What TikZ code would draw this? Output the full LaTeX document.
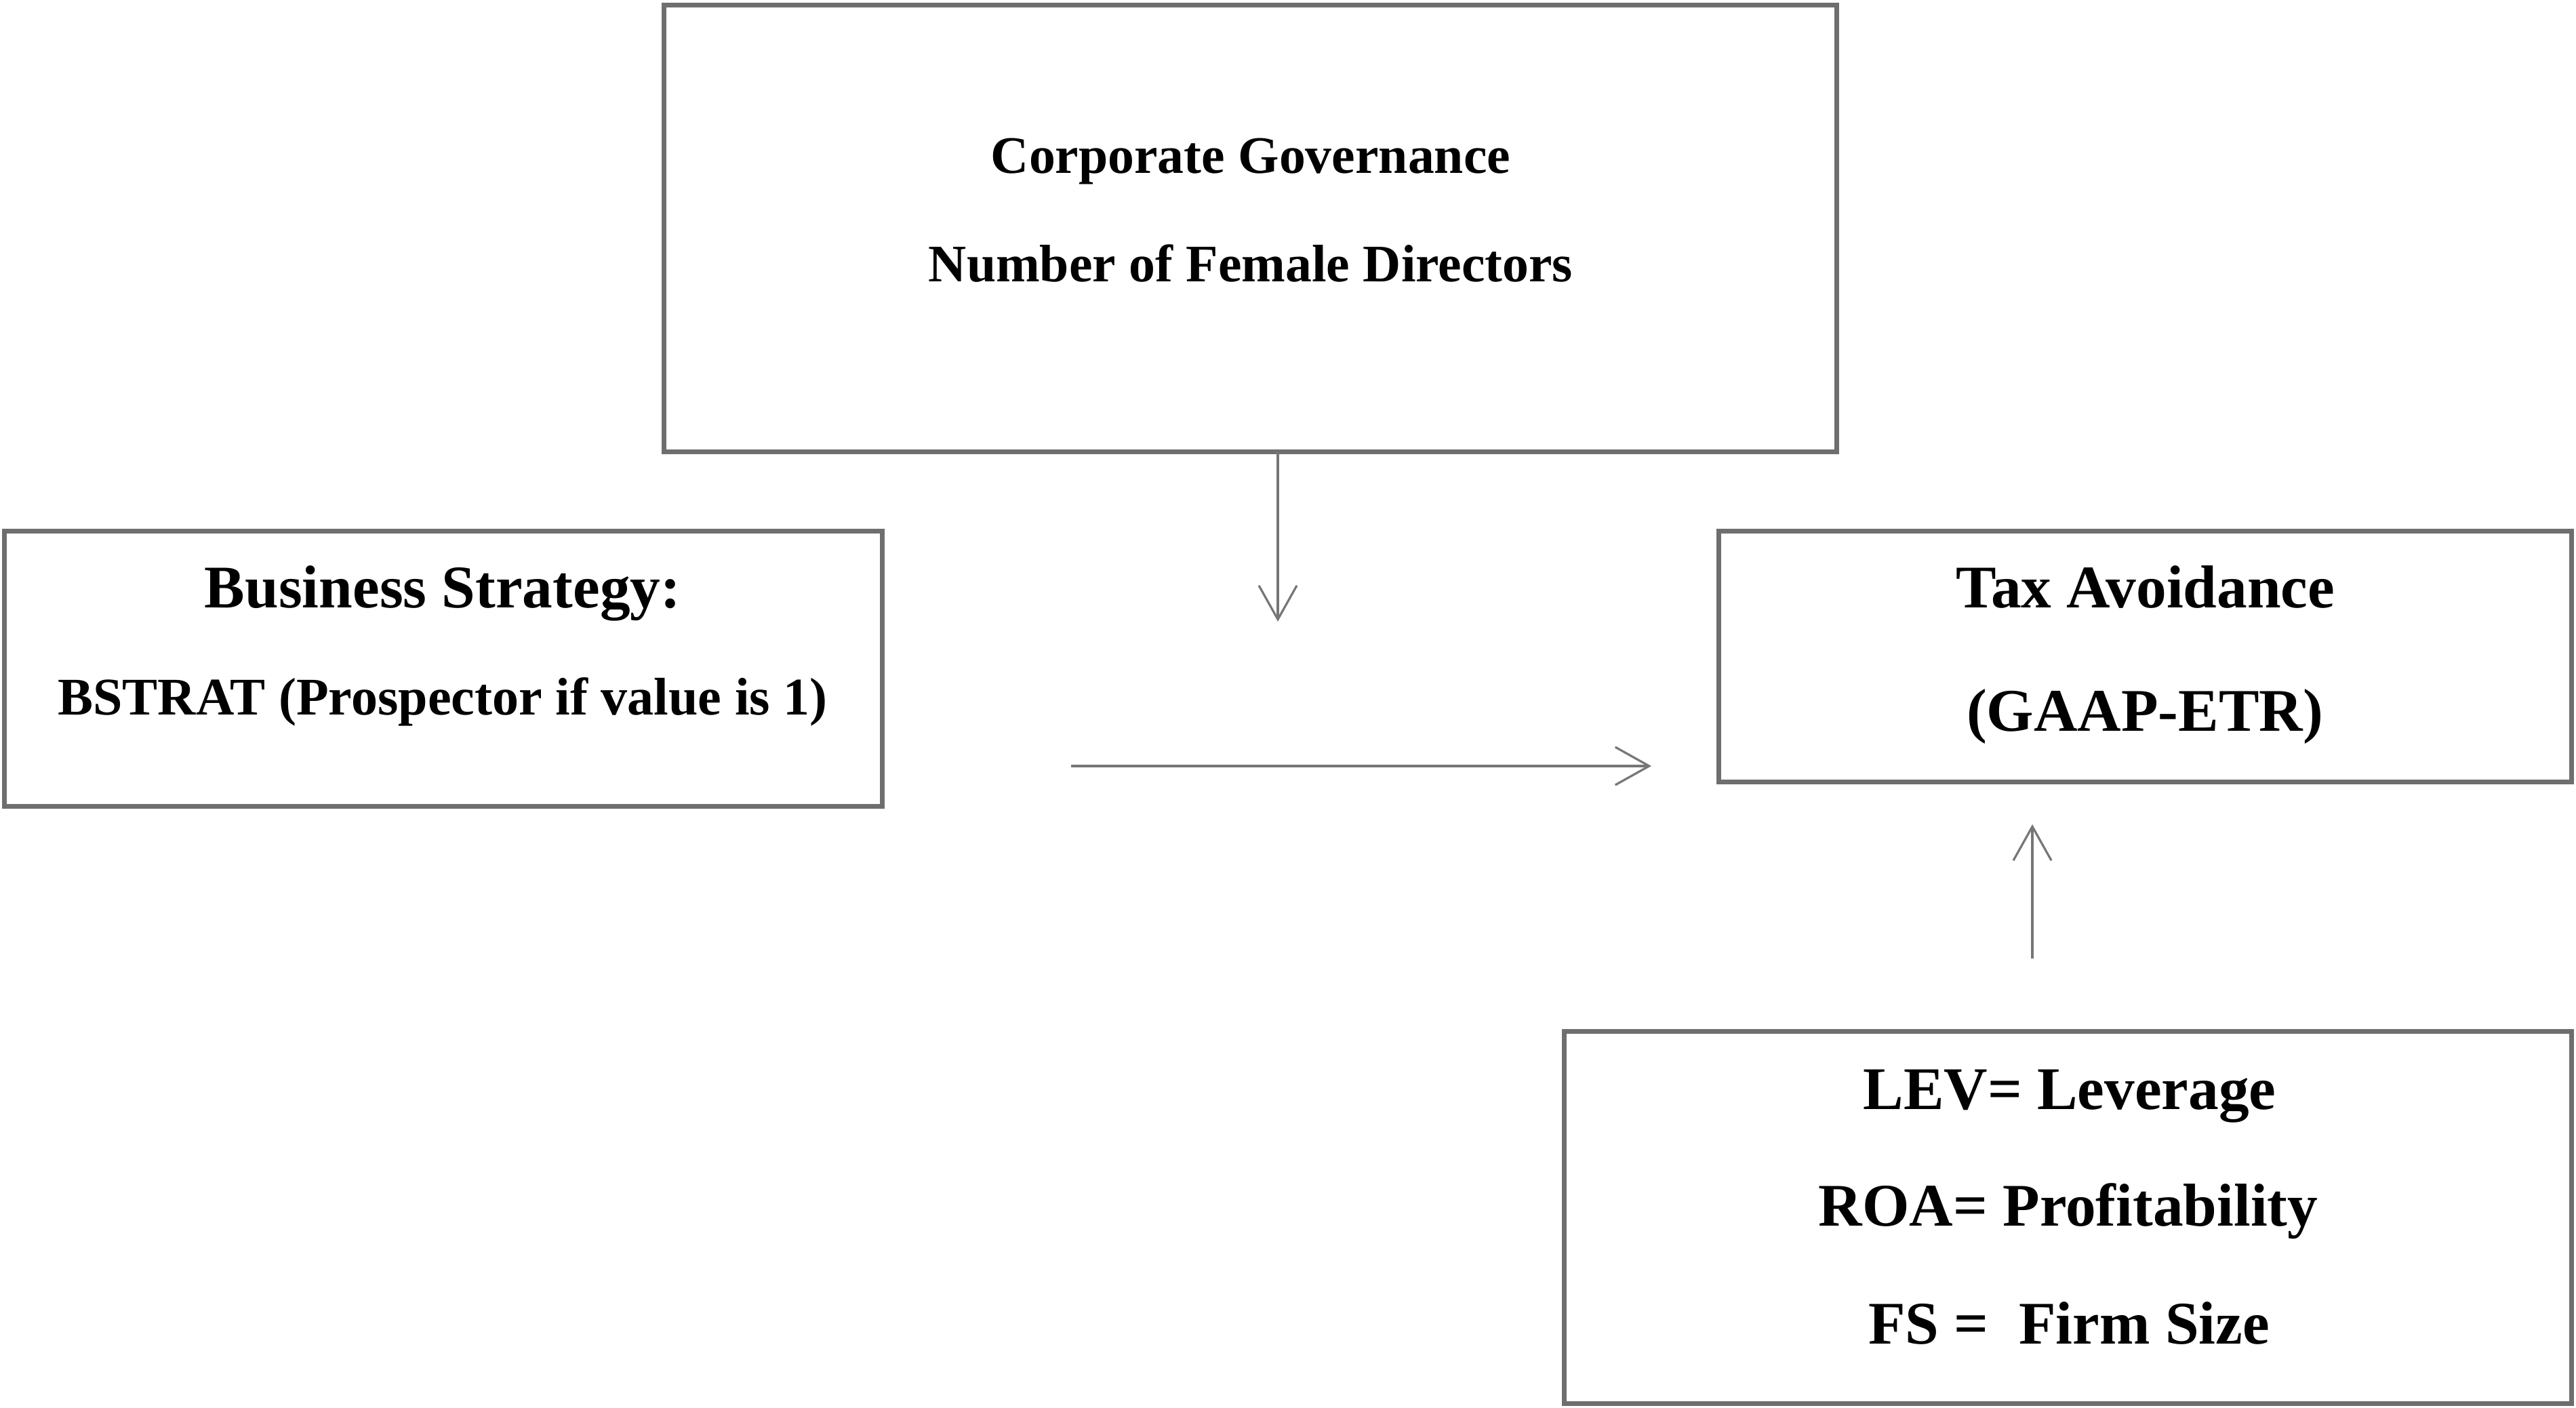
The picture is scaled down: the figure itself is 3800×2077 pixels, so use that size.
\documentclass[tikz,border=0pt]{standalone}
\usepackage{fontspec}
\setmainfont{Liberation Serif}
\usetikzlibrary{arrows.meta}
\definecolor{boxgray}{HTML}{6E6E6E}
\definecolor{arrowgray}{HTML}{767676}
\begin{document}
\begin{tikzpicture}[x=0.01cm,y=-0.01cm,
  box/.style={draw=boxgray,line width=0.07cm,rectangle,inner sep=0pt,fill=none},
  txtbig/.style={inner sep=0pt,anchor=base,font=\bfseries\fontsize{25.4pt}{30pt}\selectfont},
  txtmid/.style={inner sep=0pt,anchor=base,font=\bfseries\fontsize{22.2pt}{27pt}\selectfont},
  txtsmall/.style={inner sep=0pt,anchor=base,font=\bfseries\fontsize{22.1pt}{26pt}\selectfont},
  conn/.style={draw=arrowgray,line width=0.032cm,-{Straight Barb[length=0.5cm,width=0.56cm]}}]
\useasboundingbox (0,0) rectangle (3800,2077);
% boxes
\node[box,minimum width=17.29cm,minimum height=6.58cm] (cg) at (1844.5,337) {};
\node[box,minimum width=12.94cm,minimum height=4.05cm] (bs) at (654,986.5) {};
\node[box,minimum width=12.57cm,minimum height=3.69cm] (tax) at (3164.5,968.5) {};
\node[box,minimum width=14.85cm,minimum height=5.48cm] (ctrl) at (3050.5,1796) {};
% texts
\node[txtsmall] (cgt1) at (1845,256) {Corporate Governance};
\node[txtsmall] (cgt2) at (1845,416) {Number of Female Directors};
\node[txtbig] (bst1) at (653,897) {Business Strategy:};
\node[txtmid] (bst2) at (653,1055) {BSTRAT (Prospector if value is 1)};
\node[txtbig] (taxt1) at (3165,897) {Tax Avoidance};
\node[txtbig] (taxt2) at (3164,1079) {(GAAP-ETR)};
\node[txtbig] (ct1) at (3053,1636) {LEV= Leverage};
\node[txtbig] (ct2) at (3051,1808) {ROA= Profitability};
\node[txtbig] (ct3) at (3052,1982) {FS =\ \ Firm Size};
% connectors
\coordinate (d0) at (1885,666);
\coordinate (d1) at (1885,917);
\coordinate (h0) at (1580,1130);
\coordinate (h1) at (2436,1130);
\coordinate (u0) at (2998,1414);
\coordinate (u1) at (2998,1216);
\draw[conn] (d0) -- (d1);
\draw[conn] (h0) -- (h1);
\draw[conn] (u0) -- (u1);
\end{tikzpicture}
\end{document}
